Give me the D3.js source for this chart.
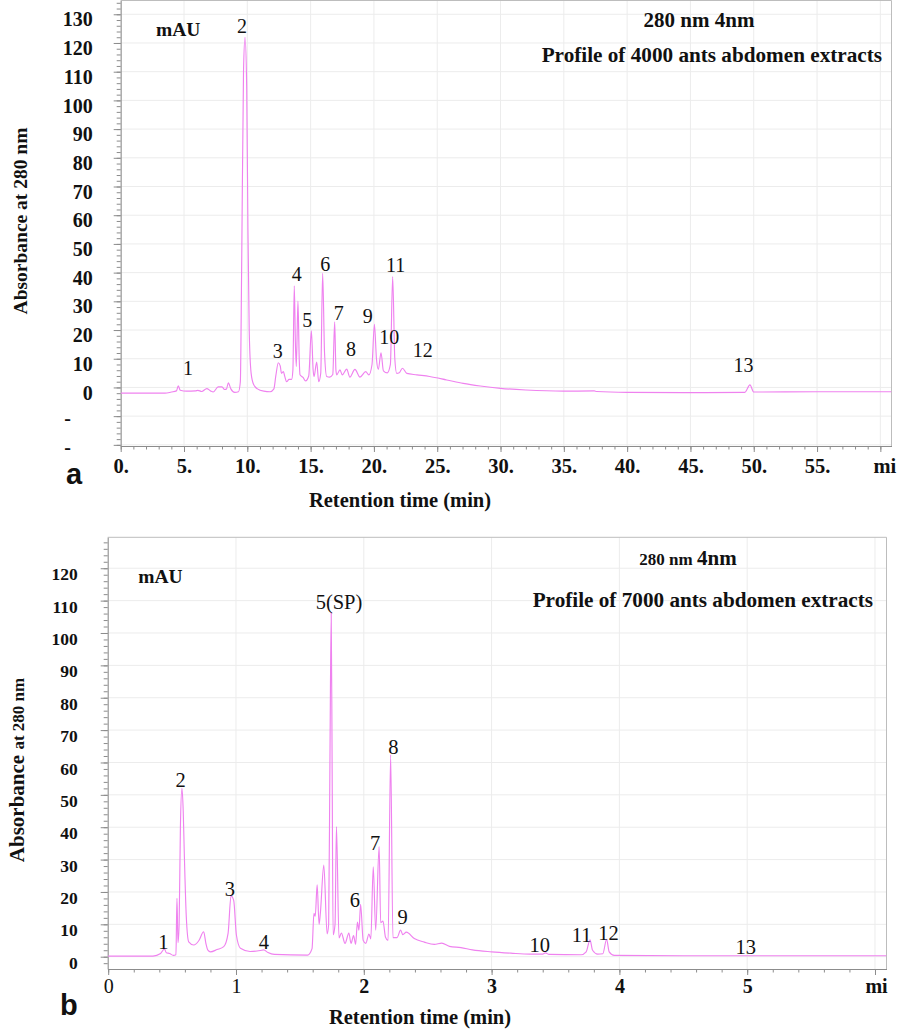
<!DOCTYPE html>
<html><head><meta charset="utf-8">
<script src="https://cdn.jsdelivr.net/npm/d3@7"></script>
<style>
body{margin:0;background:#fff;}
svg{display:block;}
</style></head><body>
<svg id="chart" width="898" height="1029"></svg>
<script>
// ---------- Panel a data (4000 ants) ----------
const topTime = [0,3.5,4.0,4.4,4.55,4.7,5.2,5.9,6.1,6.4,6.8,7.1,7.3,7.7,8.0,8.2,8.35,8.5,8.7,9.0,9.3,9.45,9.55,9.7,9.82,9.95,10.05,10.15,10.3,10.5,10.8,11.3,11.8,12.1,12.25,12.45,12.6,12.7,12.85,12.95,13.1,13.3,13.5,13.6,13.71,13.8,13.87,14.0,14.1,14.16,14.4,14.6,14.85,15.06,15.2,15.27,15.48,15.64,15.8,15.95,16.1,16.27,16.5,16.75,16.9,17.0,17.06,17.32,17.5,17.85,18.1,18.5,18.9,19.35,19.6,19.85,20.04,20.2,20.35,20.56,20.75,21.06,21.3,21.48,21.65,21.8,22.0,22.25,22.6,23.4,24.4,25.75,27.05,28.4,30.0,32.0,35.0,37.4,37.6,40.0,44.5,49.3,49.7,50.0,55.0,60.88];
const topAbs  = [-2.0,-2.0,-1.6,-1.2,0.6,-1.0,-1.3,-1.2,-1.0,-1.4,-0.4,-1.2,-1.6,0.2,0.2,-0.7,-0.6,1.6,-0.5,-1.7,-1.5,2,40,110,122,105,55,20,5,1,-0.5,-1.3,-1.5,-0.5,4,8.6,7.5,4.9,5.5,4.0,2.0,2.8,2.8,6,35.4,15,7.3,30.1,10,4.4,3.5,2.3,4,19.7,6,3.8,8.8,2.0,5,39.8,12,3.8,3.6,4.5,22.9,6,4.4,6.1,4.4,6.4,3.6,6.3,3.6,5.5,4.4,8,22.0,10,6.3,12.1,5.8,5.1,8,38.6,10,4.9,5.1,6.7,4.9,4.4,3.8,2.6,1.4,0.5,-0.3,-0.9,-1.3,-1.2,-1.4,-1.7,-1.8,-1.7,0.9,-1.6,-1.5,-1.5];
const topPeakNames = ["1","2","3","4","5","6","7","8","9","10","11","12","13"];
const topPeakTime  = [5.32,9.58,12.4,13.9,14.74,16.16,17.22,18.19,19.51,21.22,21.72,23.85,49.2];
const topPeakAbs   = [4.4,123.5,10.2,37.2,21.0,40.7,23.5,11.1,22.4,15.2,40.1,10.5,5.4];
const topXTicks  = [0,5,10,15,20,25,30,35,40,45,50,55,60];
const topXLabels = ["0.","5.","10.","15.","20.","25.","30.","35.","40.","45.","50.","55.","mi"];
const topYTicks  = [-20,-10,0,10,20,30,40,50,60,70,80,90,100,110,120,130];
const topYLabels = ["-","-","0","10","20","30","40","50","60","70","80","90","100","110","120","130"];

// ---------- Panel b data (7000 ants) ----------
const botTime = [0,0.35,0.41,0.44,0.455,0.48,0.51,0.53,0.538,0.546,0.555,0.565,0.577,0.587,0.595,0.611,0.63,0.67,0.71,0.747,0.765,0.78,0.8,0.852,0.904,0.938,0.961,0.982,1.003,1.035,1.11,1.19,1.217,1.25,1.30,1.56,1.595,1.61,1.62,1.635,1.65,1.66,1.687,1.713,1.725,1.735,1.745,1.752,1.76,1.775,1.786,1.806,1.825,1.853,1.883,1.9,1.92,1.936,1.95,1.962,1.975,1.995,2.016,2.04,2.055,2.074,2.093,2.12,2.132,2.15,2.17,2.19,2.21,2.228,2.26,2.288,2.305,2.333,2.395,2.473,2.552,2.61,2.67,2.76,2.85,3.0,3.15,3.30,3.40,3.42,3.45,3.70,3.74,3.77,3.79,3.83,3.87,3.90,3.92,3.96,4.5,5.0,6.09];
const botAbs  = [0.2,0.2,1.0,2.4,1.2,1.0,0.4,0.6,18.0,4.3,10,40,52.0,45,32.6,12.4,4.6,3.6,5,7.7,4,2.0,1.5,2.2,3.1,7.2,18.8,17.4,6.7,2.6,1.6,1.9,2.1,1.3,0.7,0.5,2.5,13.4,12.5,22.2,10,13.4,28.3,7,10,60,106.3,60,6.8,10,40.2,5.8,7.3,4.1,7.3,4.1,6.5,3.8,10.7,8.2,16.2,5.1,4.1,7,5.5,27.8,8.2,34.0,10.5,11,6,5,62.4,5.9,5.9,8.2,6.8,7.6,5.6,4.5,3.8,4.2,3.2,2.8,2.1,1.5,1.1,0.8,0.8,1.2,0.7,0.6,1.5,5.2,2.0,0.8,0.9,5.4,1.5,0.4,0.3,0.3,0.3];
const botPeakNames = ["1","2","3","4","5(SP)","6","7","8","9","10","11","12","13"];
const botPeakTime  = [0.431,0.567,0.953,1.219,1.806,1.931,2.088,2.231,2.304,3.376,3.705,3.914,4.989];
const botPeakAbs   = [2.3,52.3,18.75,2.3,107.3,15.3,33.0,62.6,10.1,1.36,4.6,5.2,0.83];
const botXTicks  = [0,1,2,3,4,5,6];
const botXLabels = ["0","1","2","3","4","5","mi"];
const botYTicks  = [0,10,20,30,40,50,60,70,80,90,100,110,120];
const botYLabels = ["0","10","20","30","40","50","60","70","80","90","100","110","120"];

// ---------- drawing ----------
const svg = d3.select("#chart");
const SERIF = '"Liberation Serif","Times New Roman",Times,serif';
const SANS = '"Liberation Sans",Arial,"Open Sans",sans-serif';
const LINE = "#ef82ef";
const AXC = "#8c8c8c";

function panel(o){
  const x = d3.scaleLinear().domain(o.xDomain).range([o.left, o.right]);
  const y = d3.scaleLinear().domain(o.yDomain).range([o.bottom, o.top]);
  const g = svg.append("g");

  // grid
  g.append("g").selectAll("line").data(o.xTicks).join("line")
    .attr("x1", d => x(d)).attr("x2", d => x(d)).attr("y1", o.top).attr("y2", o.bottom)
    .attr("stroke", "#ececec").attr("stroke-width", 1);
  g.append("g").selectAll("line").data(o.yTicks).join("line")
    .attr("x1", o.left).attr("x2", o.right).attr("y1", d => y(d)).attr("y2", d => y(d))
    .attr("stroke", "#ececec").attr("stroke-width", 1);

  // frame (top & right)
  g.append("path").attr("d", `M${o.left},${o.top}H${o.right}V${o.bottom}`)
    .attr("fill", "none").attr("stroke", "#bdbdbd");

  // minor ticks
  const ym = d3.axisLeft(y).tickValues(o.yMinor).tickSize(4).tickSizeOuter(0).tickFormat("");
  g.append("g").attr("transform", `translate(${o.left},0)`).call(ym)
    .call(s => { s.select(".domain").remove(); s.selectAll("line").attr("stroke", AXC); });
  const xm = d3.axisBottom(x).tickValues(o.xMinor).tickSize(3.5).tickSizeOuter(0).tickFormat("");
  g.append("g").attr("transform", `translate(0,${o.bottom})`).call(xm)
    .call(s => { s.select(".domain").remove(); s.selectAll("line").attr("stroke", AXC); });

  // major y axis
  const ya = d3.axisLeft(y).tickValues(o.yTicks).tickSize(7).tickSizeOuter(0).tickPadding(o.yPad)
    .tickFormat((d, i) => o.yLabels[i]);
  g.append("g").attr("transform", `translate(${o.left},0)`).call(ya)
    .call(s => {
      s.select(".domain").attr("stroke", AXC);
      s.selectAll(".tick line").attr("stroke", AXC);
      s.selectAll("text").attr("font-family", SERIF).attr("font-weight", "bold")
        .attr("font-size", o.yFont).attr("fill", "#111")
        .attr("dy", (d, i) => o.yLabels[i] === "-" ? o.dashDy : o.yDy)
        .attr("x", function(d, i){ return o.yLabels[i] === "-" ? o.dashX - o.left : d3.select(this).attr("x"); });
    });

  // major x axis
  const xa = d3.axisBottom(x).tickValues(o.xTicks).tickSize(6).tickSizeOuter(0)
    .tickFormat((d, i) => o.xLabels[i]);
  g.append("g").attr("transform", `translate(0,${o.bottom})`).call(xa)
    .call(s => {
      s.select(".domain").attr("stroke", AXC);
      s.selectAll(".tick line").attr("stroke", AXC);
      s.selectAll("text").attr("font-family", SERIF)
        .attr("font-weight", (d, i) => o.xLabelRegular.includes(o.xLabels[i]) ? "normal" : "bold")
        .attr("font-size", o.xFont).attr("fill", "#111").attr("y", o.xLabelY).attr("dy", 0)
        .attr("dx", (d, i) => o.xLabels[i] === "mi" ? o.miDx : 0);
    });

  // trace
  const clipId = "clip" + o.id;
  svg.append("clipPath").attr("id", clipId).append("rect")
    .attr("x", o.left).attr("y", o.top).attr("width", o.right - o.left).attr("height", o.bottom - o.top);
  const line = d3.line().x(d => x(d[0])).y(d => y(d[1])).curve(d3.curveMonotoneX);
  g.append("path").datum(d3.zip(o.time, o.abs)).attr("d", line)
    .attr("clip-path", `url(#${clipId})`)
    .attr("fill", "none").attr("stroke", LINE).attr("stroke-width", 1.15);

  // peak labels
  g.append("g").selectAll("text").data(o.peakNames).join("text")
    .attr("x", (d, i) => x(o.peakTime[i])).attr("y", (d, i) => y(o.peakAbs[i]))
    .attr("text-anchor", "middle").attr("font-family", SERIF).attr("font-size", o.peakFont)
    .attr("fill", "#111").text(d => d);
  return {x, y, g};
}

// Panel a
const A = panel({
  id: "a", left: 120.7, right: 891.5, top: 0.5, bottom: 446,
  xDomain: [0, 60.88], yDomain: [-20.4, 134.8],
  xTicks: topXTicks, xLabels: topXLabels, xMinor: d3.range(0, 61, 1),
  yTicks: topYTicks, yLabels: topYLabels, yMinor: d3.range(-20, 135, 2),
  yFont: 20, yDy: "0.58em", dashDy: "0.42em", yPad: 21, dashX: 71,
  xFont: 20.5, xLabelY: 27.3, xLabelRegular: [], miDx: 4,
  time: topTime, abs: topAbs,
  peakNames: topPeakNames, peakTime: topPeakTime, peakAbs: topPeakAbs, peakFont: 20
});

// Panel b
const B = panel({
  id: "b", left: 107.7, right: 886.5, top: 537.3, bottom: 969,
  xDomain: [-0.0039, 6.09], yDomain: [-3.8, 129.56],
  xTicks: botXTicks, xLabels: botXLabels, xMinor: d3.range(0, 6.01, 0.2),
  yTicks: botYTicks, yLabels: botYLabels, yMinor: d3.range(-2, 129, 2),
  yFont: 17.5, yDy: "0.66em", dashDy: "0.66em", yPad: 23, dashX: 0,
  xFont: 20, xLabelY: 24, xLabelRegular: ["0","1"], miDx: 1,
  time: botTime, abs: botAbs,
  peakNames: botPeakNames, peakTime: botPeakTime, peakAbs: botPeakAbs, peakFont: 20.5
});

// ---------- annotations ----------
function txt(x, y, s, size, weight, anchor, fam){
  return svg.append("text").attr("x", x).attr("y", y).attr("font-family", fam || SERIF)
    .attr("font-size", size).attr("font-weight", weight || "bold")
    .attr("text-anchor", anchor || "start").attr("fill", "#111").text(s);
}
// panel a
txt(156, 35.7, "mAU", 19.5);
txt(699, 26.7, "280 nm 4nm", 21, "bold", "middle");
txt(882, 61.7, "Profile of 4000 ants abdomen extracts", 21.2, "bold", "end");
txt(400, 506.5, "Retention time (min)", 20.5, "bold", "middle");
txt(66, 484, "a", 29, "bold", "start", SANS);
svg.append("text").attr("transform", "translate(27,221) rotate(-90)")
  .attr("text-anchor", "middle").attr("font-family", SERIF).attr("font-weight", "bold")
  .attr("font-size", 19.5).attr("fill", "#111").text("Absorbance at 280 nm");

// panel b
txt(138.3, 583.3, "mAU", 19.5);
const t2 = svg.append("text").attr("x", 688).attr("y", 565).attr("text-anchor", "middle")
  .attr("font-family", SERIF).attr("font-weight", "bold").attr("fill", "#111");
t2.append("tspan").attr("font-size", 17).text("280 nm ");
t2.append("tspan").attr("font-size", 21).text("4nm");
txt(873, 606.7, "Profile of 7000 ants abdomen extracts", 21.2, "bold", "end");
txt(420, 1024, "Retention time (min)", 20.5, "bold", "middle");
txt(60, 1015, "b", 29, "bold", "start", SANS);
const yt = svg.append("text").attr("transform", "translate(24,770) rotate(-90)")
  .attr("text-anchor", "middle").attr("font-family", SERIF).attr("font-weight", "bold").attr("fill", "#111");
yt.append("tspan").attr("font-size", 21).text("Absorbance ");
yt.append("tspan").attr("font-size", 17).text("at 280 nm");
</script>
</body></html>
